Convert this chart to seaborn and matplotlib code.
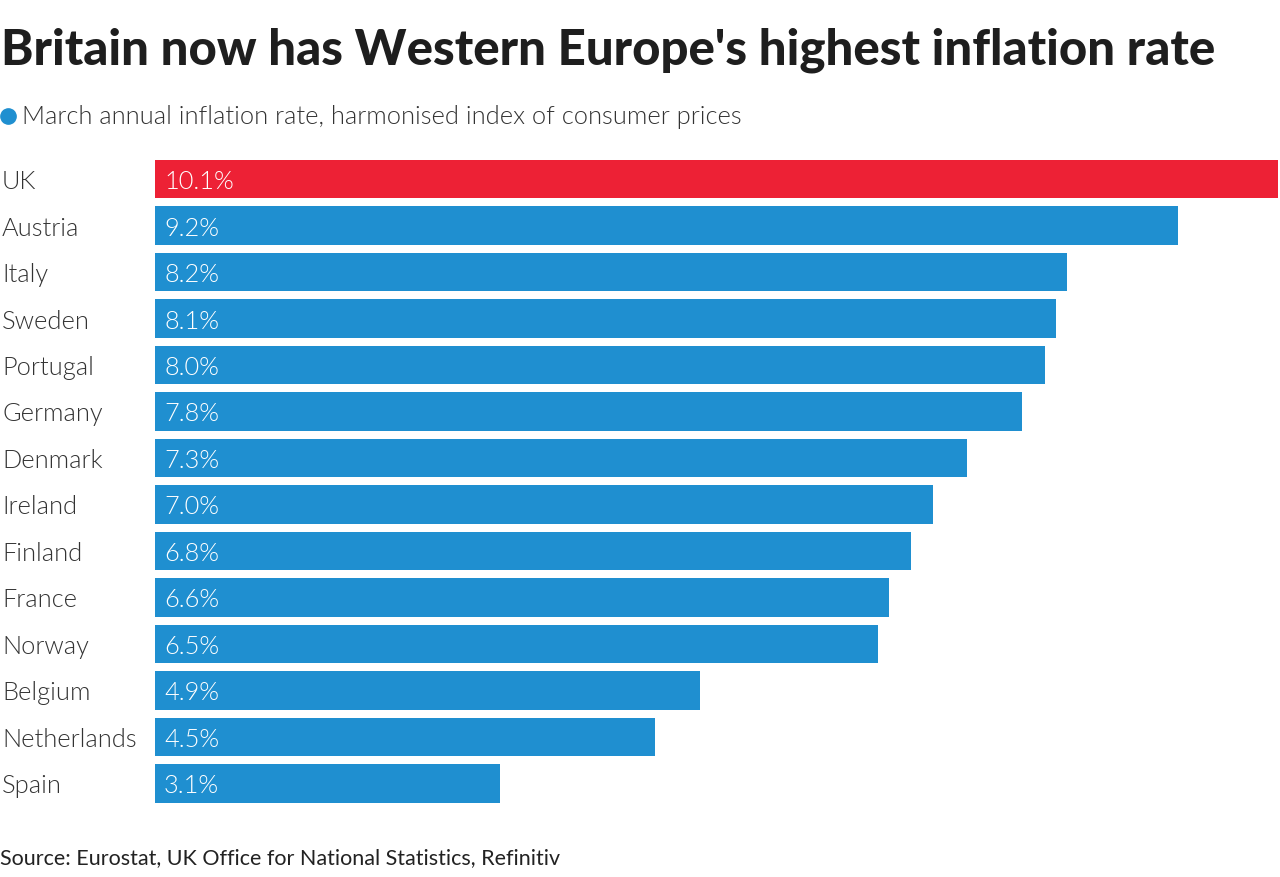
import matplotlib
matplotlib.use('Agg')
import matplotlib.pyplot as plt
import pandas as pd
import seaborn as sns

countries = ['UK', 'Austria', 'Italy', 'Sweden', 'Portugal', 'Germany', 'Denmark',
             'Ireland', 'Finland', 'France', 'Norway', 'Belgium', 'Netherlands', 'Spain']
rates = [10.1, 9.2, 8.2, 8.1, 8.0, 7.8, 7.3, 7.0, 6.8, 6.6, 6.5, 4.9, 4.5, 3.1]

BLUE = '#1f8fd0'
RED = '#ed2135'
W, H = 1280, 877

sns.set_theme(style='white')
plt.rcParams['font.family'] = ['Lato', 'DejaVu Sans']

df = pd.DataFrame({'country': countries, 'rate': rates})
colors = [RED if c == 'UK' else BLUE for c in countries]

fig = plt.figure(figsize=(W / 100, H / 100), dpi=100)
# plot area: bars start at x=155, run off the right edge
top, bottom = 155.8, 806.6
ax = fig.add_axes([155 / W, 1 - bottom / H, (W - 155) / W, (bottom - top) / H])
sns.barplot(data=df, y='country', x='rate', hue='country', palette=colors,
            legend=False, width=0.83, saturation=1, linewidth=0, ax=ax)
ax.set_xlim(0, 1125 / 111.2)
ax.set_ylim(13.5, -0.5)
ax.set_xlabel('')
ax.set_ylabel('')
ax.set_xticks([])
ax.set_yticks([])
sns.despine(ax=ax, left=True, bottom=True)

for i, (c, r) in enumerate(zip(countries, rates)):
    ax.annotate(f'{r:.1f}%', (0, i), xytext=(9, -3), textcoords='offset pixels',
                ha='left', va='center', color='white', fontsize=18.3,
                fontweight=300)
    ax.annotate(c, (0, i), xytext=(-153, -3), textcoords='offset pixels',
                ha='left', va='center', color='#333333', fontsize=18.3,
                fontweight=300)

fig.text(1 / W, 1 - 50 / H, "Britain now has Western Europe's highest inflation rate",
         fontsize=35.4, fontweight='black', color='#1e1e1e', va='center', ha='left')
fig.text(22 / W, 1 - 117 / H, 'March annual inflation rate, harmonised index of consumer prices',
         fontsize=18.3, fontweight=300, color='#333333', va='center', ha='left')
fig.add_artist(plt.Line2D([8 / W], [1 - 116 / H], marker='o', markersize=11,
                          color=BLUE, linestyle='none', transform=fig.transFigure))
fig.text(0, 1 - 858 / H, 'Source: Eurostat, UK Office for National Statistics, Refinitiv',
         fontsize=15.5, color='#222222', va='center', ha='left')

fig.savefig('out.png', dpi=100)
